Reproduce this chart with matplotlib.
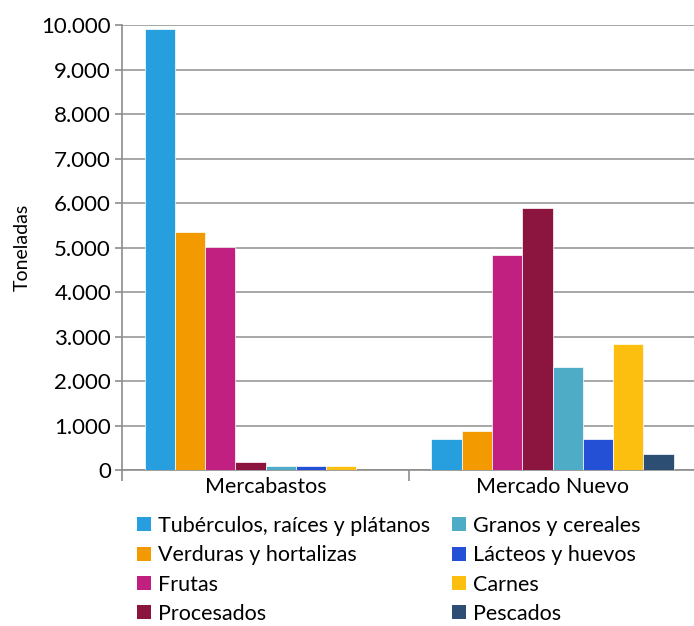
import numpy as np
import matplotlib
matplotlib.use('Agg')
import matplotlib.pyplot as plt
from matplotlib.patches import Patch

plt.rcParams['font.family'] = ['Lato', 'DejaVu Sans']

groups = ['Mercabastos', 'Mercado Nuevo']
series = ['Tubérculos, raíces y plátanos', 'Verduras y hortalizas', 'Frutas', 'Procesados',
          'Granos y cereales', 'Lácteos y huevos', 'Carnes', 'Pescados']
# toneladas, [Mercabastos, Mercado Nuevo]
tuberculos = [9910, 700]
verduras = [5360, 870]
frutas = [5010, 4840]
procesados = [180, 5880]
granos = [100, 2320]
lacteos = [100, 700]
carnes = [100, 2830]
pescados = [0, 370]
values = [tuberculos, verduras, frutas, procesados, granos, lacteos, carnes, pescados]
colors = ['#279fde', '#f29a00', '#c22080', '#8c153f', '#4eacc6', '#2450d6', '#fdbf0f', '#2d4e73']

fig = plt.figure(figsize=(6.94, 6.26), dpi=100)
ax = fig.add_axes([0.176, 0.249, 0.827, 0.711])

n = len(series)
w = 0.1055
x = np.arange(len(groups))
for i, (s, v, c) in enumerate(zip(series, values, colors)):
    ax.bar(x + (i - (n - 1) / 2) * w, v, width=w, color=c, edgecolor='white', linewidth=0.5, label=s, zorder=3)

ax.set_xlim(-0.5, 1.5)
ax.set_ylim(0, 10000)
ax.set_yticks(np.arange(0, 10001, 1000))
ax.set_yticklabels(['0'] + [f'{k}.000' for k in range(1, 11)], fontsize=16)
ax.set_xticks(x)
ax.set_xticklabels(groups, fontsize=15.5)
ax.set_xticks([-0.5, 0.5, 1.5], minor=True)
ax.tick_params(axis='x', which='major', length=0, pad=5)
ax.tick_params(axis='x', which='minor', length=8, width=1.2, color='#8c8c8c', direction='out')
ax.tick_params(axis='y', length=5, width=1.2, color='#8c8c8c', pad=3)
ax.grid(axis='y', color='#a0a0a0', linewidth=1.3, zorder=0)
for sp in ['top', 'right']:
    ax.spines[sp].set_visible(False)
for sp in ['left', 'bottom']:
    ax.spines[sp].set_color('#8c8c8c')
    ax.spines[sp].set_linewidth(1.2)
ax.set_ylabel('Toneladas', fontsize=14, labelpad=8)

handles = [Patch(facecolor=c, label=s) for s, c in zip(series, colors)]
leg_kw = dict(loc='upper left', frameon=False, fontsize=15.5, handlelength=0.63, handleheight=0.63,
              handletextpad=0.35, labelspacing=0.43, borderaxespad=0, borderpad=0)
fig.legend(handles=handles[:4], bbox_to_anchor=(137 / 694, 1 - 516 / 626), **leg_kw)
fig.legend(handles=handles[4:], bbox_to_anchor=(452 / 694, 1 - 516 / 626), **leg_kw)

fig.savefig('out.png', dpi=100)
